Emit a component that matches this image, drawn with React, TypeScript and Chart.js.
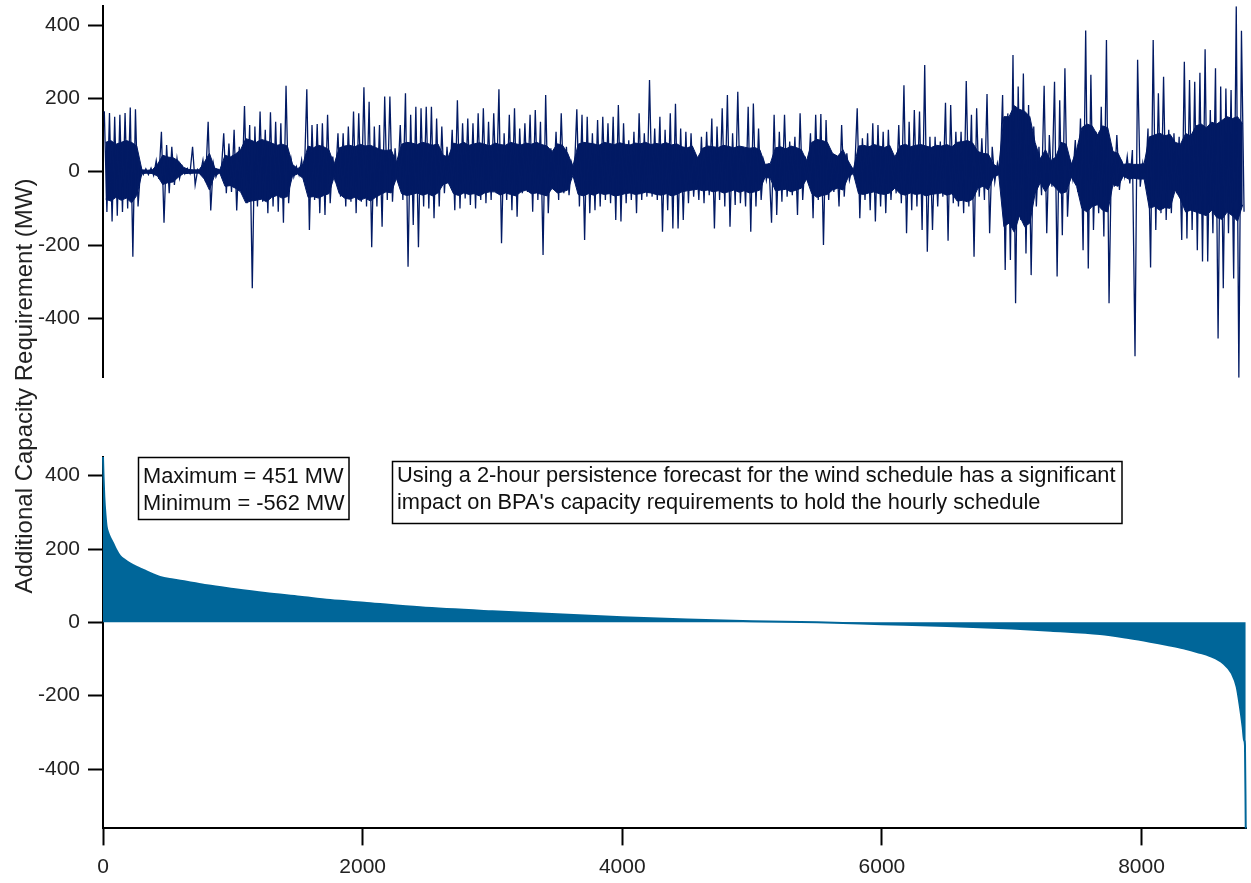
import React, { useEffect, useRef } from "react";
import { Chart, registerables } from "chart.js";

Chart.register(...registerables);

// ---- Hourly series (MW), summarised per 40-hour bin ----
const BIN_HOURS = 40;
// extreme high / low reached in each bin (spikes)
const binHigh = [
  165, 160, 150, 155, 160, 175, 170, 10, 8, 10,
  30, 109, 73, 68, 36, 14, 9, 68, 6, 32,
  136, 23, 5, 105, 77, 114, 68, 179, 127, 123,
  164, 114, 162, 136, 132, 234, 32, 14, 32, 225,
  127, 130, 132, 155, 41, 105, 105, 123, 164, 159,
  230, 191, 123, 127, 205, 205, 64, 127, 214, 155,
  177, 173, 177, 177, 145, 123, 68, 114, 195, 132,
  145, 132, 159, 173, 136, 159, 225, 105, 155, 173,
  118, 132, 155, 168, 136, 209, 64, 109, 159, 68,
  23, 170, 155, 150, 105, 141, 150, 132, 150, 182,
  132, 86, 109, 159, 105, 250, 118, 150, 114, 159,
  185, 118, 109, 105, 41, 95, 109, 145, 123, 173,
  209, 105, 218, 68, 177, 186, 118, 27, 23, 155,
  109, 155, 82, 95, 159, 41, 105, 155, 157, 141,
  55, 45, 127, 50, 9, 173, 91, 105, 132, 127,
  109, 114, 45, 127, 236, 136, 168, 164, 291, 95,
  95, 82, 188, 182, 109, 109, 247, 155, 173, 91,
  212, 68, 23, 209, 159, 318, 232, 268, 182, 123,
  68, 234, 100, 245, 195, 282, 32, 86, 145, 385,
  264, 109, 177, 359, 68, 100, 23, 41, 59, 305,
  23, 118, 359, 214, 259, 114, 105, 95, 300, 250,
  245, 270, 334, 168, 282, 232, 227, 223, 451, 384,
];
const binLow = [
  -110, -136, -120, -110, -100, -232, -95, -8, -8, -10,
  -20, -139, -59, -36, -18, -6, -5, -36, -5, -27,
  -106, -14, -5, -59, -55, -106, -59, -86, -318, -95,
  -82, -113, -95, -109, -139, -86, -14, -9, -27, -159,
  -77, -113, -118, -86, -27, -68, -95, -82, -113, -82,
  -95, -206, -95, -150, -77, -82, -27, -77, -259, -145,
  -206, -95, -100, -127, -95, -59, -36, -105, -100, -73,
  -91, -100, -77, -86, -77, -59, -195, -77, -105, -123,
  -59, -55, -109, -77, -227, -113, -50, -77, -59, -64,
  -14, -95, -186, -113, -105, -95, -77, -86, -132, -136,
  -86, -77, -113, -77, -68, -68, -77, -164, -105, -155,
  -155, -132, -86, -68, -77, -86, -64, -155, -77, -95,
  -150, -91, -86, -95, -164, -95, -77, -23, -139, -118,
  -82, -68, -64, -118, -77, -27, -127, -77, -200, -77,
  -55, -95, -68, -23, -5, -127, -77, -105, -136, -95,
  -113, -77, -59, -86, -168, -105, -95, -159, -218, -159,
  -95, -68, -188, -86, -95, -113, -95, -232, -68, -77,
  -168, -27, -9, -268, -241, -359, -132, -223, -282, -95,
  -64, -168, -41, -286, -173, -123, -18, -55, -214, -264,
  -159, -113, -177, -359, -41, -50, -14, -32, -503, -41,
  -23, -261, -159, -113, -132, -113, -59, -186, -182, -159,
  -214, -245, -245, -168, -455, -318, -168, -291, -562, -109,
];
// dense core of the hourly trace in each bin
const coreHigh = [
  80, 85, 75, 80, 85, 80, 70, 5, 4, 5,
  20, 45, 40, 38, 30, 12, 6, 5, 5, 25,
  50, 10, 5, 45, 40, 48, 60, 90, 86, 80,
  88, 84, 78, 72, 75, 70, 20, 8, 20, 70,
  65, 72, 68, 60, 20, 65, 70, 72, 68, 75,
  70, 72, 66, 60, 58, 60, 25, 75, 80, 78,
  74, 80, 77, 72, 76, 45, 40, 78, 74, 80,
  72, 76, 79, 75, 70, 78, 74, 72, 80, 76,
  73, 78, 75, 80, 74, 70, 55, 76, 72, 50,
  15, 75, 80, 78, 76, 72, 80, 77, 74, 79,
  75, 73, 78, 76, 80, 74, 77, 75, 79, 73,
  76, 68, 65, 70, 38, 64, 70, 68, 66, 72,
  69, 65, 70, 67, 64, 66, 60, 20, 22, 65,
  68, 62, 70, 66, 60, 30, 80, 88, 85, 80,
  50, 42, 60, 30, 5, 70, 72, 68, 74, 70,
  66, 72, 40, 70, 75, 68, 72, 74, 70, 66,
  72, 70, 74, 68, 80, 82, 85, 78, 55, 50,
  48, 20, 12, 150, 150, 180, 170, 165, 150, 80,
  35, 60, 30, 40, 80, 75, 20, 60, 120, 130,
  125, 100, 125, 120, 55, 50, 20, 22, 20, 20,
  22, 95, 100, 105, 98, 102, 80, 75, 104, 98,
  125, 130, 120, 135, 130, 140, 150, 145, 150, 130,
];
const coreLow = [
  -75, -80, -70, -78, -72, -85, -65, -5, -4, -5,
  -12, -35, -30, -28, -15, -5, -5, -4, -4, -20,
  -50, -10, -4, -40, -38, -45, -55, -85, -80, -78,
  -75, -82, -70, -65, -72, -68, -12, -6, -18, -70,
  -68, -72, -65, -60, -15, -60, -72, -75, -70, -78,
  -72, -80, -70, -62, -55, -58, -18, -60, -65, -62,
  -58, -64, -60, -66, -58, -35, -30, -60, -65, -58,
  -62, -60, -66, -58, -55, -55, -64, -58, -62, -66,
  -55, -50, -60, -58, -62, -66, -45, -58, -55, -50,
  -10, -62, -66, -60, -64, -58, -62, -60, -66, -64,
  -60, -58, -62, -60, -56, -58, -62, -64, -60, -66,
  -62, -55, -52, -50, -48, -52, -50, -55, -52, -58,
  -55, -50, -56, -52, -58, -55, -50, -15, -18, -52,
  -50, -48, -55, -50, -45, -20, -60, -70, -65, -62,
  -50, -45, -50, -15, -5, -60, -62, -58, -55, -60,
  -62, -58, -45, -60, -64, -58, -62, -60, -66, -62,
  -60, -58, -64, -60, -80, -78, -82, -75, -45, -40,
  -50, -15, -8, -150, -140, -165, -120, -150, -140, -60,
  -30, -55, -30, -45, -60, -55, -15, -40, -100, -110,
  -95, -90, -105, -110, -35, -40, -12, -20, -18, -20,
  -20, -100, -95, -105, -98, -100, -50, -75, -110, -105,
  -110, -115, -120, -105, -125, -130, -110, -120, -135, -90,
];

// Sorted (duration) curve: rank in hours vs MW
const durationHours = [
  0, 4, 10, 20, 28, 40, 53, 79, 105, 131, 170, 208, 260, 311, 380, 439, 540, 645,
  800, 1004, 1250, 1518, 1750, 2032, 2442, 3000, 3500, 4000, 4500, 5000, 5500,
  6000, 6500, 7000, 7300, 7680, 7900, 8066, 8200, 8322, 8440, 8528, 8631, 8695,
  8733, 8758, 8779, 8790, 8797, 8803,
];
const durationValues = [
  451, 400, 343, 290, 261, 245, 233, 215, 196, 181, 170, 161, 151, 143, 132, 124,
  117, 111, 101, 91, 80, 70, 61, 53, 41, 30, 22, 14, 8, 3, 0, -5, -10, -17, -23,
  -32, -43, -53, -62, -71, -82, -92, -112, -139, -176, -230, -285, -321, -335, -562,
];

const yTicks = [-400, -200, 0, 200, 400];
const xTicks = [0, 2000, 4000, 6000, 8000];
const Y_MIN = -562;
const Y_MAX = 451;
const X_MAX = 8805;

const yTitle = "Additional Capacity Requirement (MW)";
const statsLines = ["Maximum = 451 MW", "Minimum = -562 MW"];
const noteLines = [
  "Using a 2-hour persistence forecast for the wind schedule has a significant",
  "impact on BPA's capacity requirements to hold the hourly schedule",
];

const FONT = "'Liberation Sans', Arial, sans-serif";
const NAVY = "#021a64";
const TEAL = "#006699";

function yScale() {
  return {
    type: "linear",
    min: Y_MIN,
    max: Y_MAX,
    afterBuildTicks: (s: any) => {
      s.ticks = yTicks.map((v) => ({ value: v }));
    },
    afterFit: (s: any) => {
      s.width = 103;
      s.paddingTop = 0;
      s.paddingBottom = 0;
      s.paddingLeft = 0;
      s.paddingRight = 0;
    },
    ticks: {
      color: "#222",
      font: { family: FONT, size: 21 },
      padding: 8,
      callback: (v: any) => String(v),
    },
    grid: {
      drawOnChartArea: false,
      drawTicks: true,
      tickLength: 15,
      tickColor: "#000",
      tickWidth: 2,
    },
    border: { display: true, color: "#000", width: 2 },
  };
}

export default function App() {
  const topRef = useRef<HTMLCanvasElement>(null);
  const botRef = useRef<HTMLCanvasElement>(null);

  useEffect(() => {
    const spikePts: { x: number; y: number }[] = [];
    for (let i = 0; i < binHigh.length; i++) {
      spikePts.push({ x: i * BIN_HOURS + BIN_HOURS * 0.25, y: binHigh[i] });
      spikePts.push({ x: i * BIN_HOURS + BIN_HOURS * 0.75, y: binLow[i] });
    }
    const coreHiPts = coreHigh.map((v, i) => ({ x: i * BIN_HOURS + BIN_HOURS / 2, y: v }));
    const coreLoPts = coreLow.map((v, i) => ({ x: i * BIN_HOURS + BIN_HOURS / 2, y: v }));
    const durPts = durationHours.map((h, i) => ({ x: h, y: durationValues[i] }));

    const top = new Chart(topRef.current!, {
      type: "line",
      data: {
        datasets: [
          {
            data: spikePts,
            borderColor: NAVY,
            borderWidth: 1.3,
            pointRadius: 0,
            fill: false,
            tension: 0,
          },
          {
            data: coreHiPts,
            borderColor: NAVY,
            backgroundColor: NAVY,
            borderWidth: 1,
            pointRadius: 0,
            fill: "+1",
            tension: 0,
          },
          {
            data: coreLoPts,
            borderColor: NAVY,
            borderWidth: 1,
            pointRadius: 0,
            fill: false,
            tension: 0,
          },
        ],
      },
      options: {
        animation: false,
        responsive: false,
        maintainAspectRatio: false,
        layout: { padding: { left: 0, right: 5, top: 6.3, bottom: 17.2 } },
        plugins: { legend: { display: false }, tooltip: { enabled: false } },
        scales: {
          x: { type: "linear", min: 0, max: X_MAX, display: false },
          y: yScale(),
        },
      } as any,
    });

    const overlay = {
      id: "overlay",
      afterDraw(chart: any) {
        const ctx = chart.ctx;
        ctx.save();
        ctx.fillStyle = "#222";
        ctx.textBaseline = "alphabetic";
        ctx.save();
        ctx.translate(31.5, 386);
        ctx.rotate(-Math.PI / 2);
        ctx.textAlign = "center";
        ctx.font = `24px ${FONT}`;
        ctx.fillText(yTitle, 0, 0);
        ctx.restore();
        ctx.strokeStyle = "#000";
        ctx.lineWidth = 1.5;
        ctx.strokeRect(138.5, 457.5, 210.5, 62);
        ctx.strokeRect(392.5, 461.5, 729.5, 62);
        ctx.font = `21.8px ${FONT}`;
        ctx.textAlign = "left";
        ctx.fillStyle = "#111";
        ctx.fillText(statsLines[0], 143, 482.5);
        ctx.fillText(statsLines[1], 143, 510);
        ctx.fillText(noteLines[0], 397, 482);
        ctx.fillText(noteLines[1], 397, 508.5);
        ctx.restore();
      },
    };

    const bot = new Chart(botRef.current!, {
      type: "line",
      data: {
        datasets: [
          {
            data: durPts,
            borderColor: TEAL,
            backgroundColor: TEAL,
            borderWidth: 2,
            pointRadius: 0,
            fill: "origin",
            cubicInterpolationMode: "monotone",
            clip: 6,
          },
        ],
      },
      options: {
        animation: false,
        responsive: false,
        maintainAspectRatio: false,
        layout: { padding: { left: 0, right: 5, top: 457, bottom: 0 } },
        plugins: { legend: { display: false }, tooltip: { enabled: false } },
        scales: {
          x: {
            type: "linear",
            min: 0,
            max: X_MAX,
            afterBuildTicks: (s: any) => {
              s.ticks = xTicks.map((v) => ({ value: v }));
            },
            afterFit: (s: any) => {
              s.height = 883 - 828.4;
              s.paddingLeft = 0;
              s.paddingRight = 0;
              s.paddingTop = 0;
              s.paddingBottom = 0;
            },
            ticks: {
              color: "#222",
              font: { family: FONT, size: 21 },
              padding: 9,
              maxRotation: 0,
              callback: (v: any) => String(v),
            },
            grid: {
              drawOnChartArea: false,
              drawTicks: true,
              tickLength: 17,
              tickColor: "#000",
              tickWidth: 2,
            },
            border: { display: true, color: "#000", width: 2 },
          },
          y: yScale(),
        },
      } as any,
      plugins: [overlay],
    });

    return () => {
      top.destroy();
      bot.destroy();
    };
  }, []);

  return (
    <div
      style={{
        position: "fixed",
        left: 0,
        top: 0,
        width: 1251,
        height: 883,
        background: "#fff",
      }}
    >
      <canvas
        ref={botRef}
        width={1251}
        height={883}
        style={{ position: "absolute", left: 0, top: 0, width: 1251, height: 883 }}
      />
      <canvas
        ref={topRef}
        width={1251}
        height={395}
        style={{ position: "absolute", left: 0, top: 0, width: 1251, height: 395 }}
      />
    </div>
  );
}
